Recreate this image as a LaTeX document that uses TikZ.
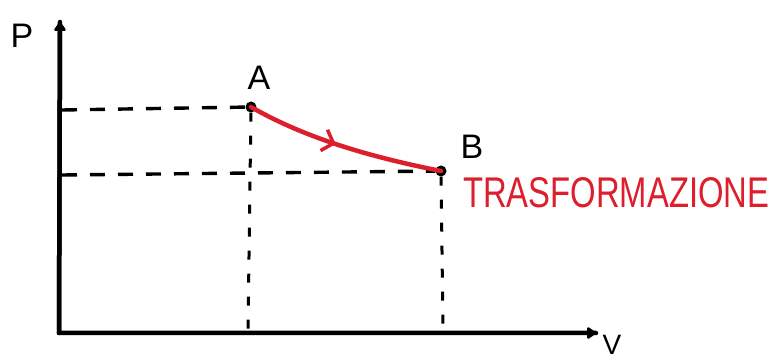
\documentclass[tikz,border=0pt]{standalone}
\usepackage{fontspec}
\setmainfont{Liberation Sans}
\usetikzlibrary{arrows.meta,decorations.markings}
\definecolor{pred}{RGB}{220,30,45}
\begin{document}
\begin{tikzpicture}[x=1pt,y=-1pt,
  axis/.style={line width=4.5pt,line cap=round,-{Triangle[length=10pt,width=13pt,round]}},
  guide/.style={line width=3.4pt,dash pattern=on 15pt off 13pt},
  vguide/.style={line width=3pt,dash pattern=on 9pt off 14pt},
  pt/.style={circle,fill=black,inner sep=0pt,minimum size=11pt},
  lab/.style={font=\fontsize{34}{34}\selectfont},
  proc/.style={pred,line width=4.5pt,line cap=round,
    postaction={decorate},
    decoration={markings,mark=at position 0.46 with {\arrow[pred,line width=3.5pt]{Straight Barb[length=10pt,width=22pt]}}}}]
\useasboundingbox[fill=white] (0,0) rectangle (774,363);
\coordinate (O) at (59,333);
\coordinate (Ytop) at (60,22);
\coordinate (Xend) at (596,333);
\node[pt] (A) at (251,107) {};
\node[pt] (B) at (441,171) {};
\coordinate (Ay) at (62,110);
\coordinate (By) at (62,175);
\coordinate (Ax) at (248,331);
\coordinate (Bx) at (443,331);
\draw[guide] (Ay) -- (A);
\draw[guide] (By) -- (B);
\draw[vguide] (A) -- (Ax);
\draw[vguide] (B) -- (Bx);
\draw[line width=4.5pt,line cap=round,line join=round] (Ytop) -- (O) -- (Xend);
\draw[axis] (O) -- (Ytop);
\draw[axis] (O) -- (Xend);
\node[lab] (P) at (22,36) {P};
\node[font=\fontsize{28}{28}\selectfont,inner sep=0pt] (V) at (612,345) {V};
\node[lab] (LA) at (259,78) {A};
\node[lab] (LB) at (472,147) {B};
\draw[proc] (A.center) .. controls (300,135) and (360,155) .. (B.center);
\node[pred,anchor=west,inner sep=0pt] (T) at (463,193) {\resizebox{306pt}{30pt}{TRASFORMAZIONE}};
\end{tikzpicture}
\end{document}
